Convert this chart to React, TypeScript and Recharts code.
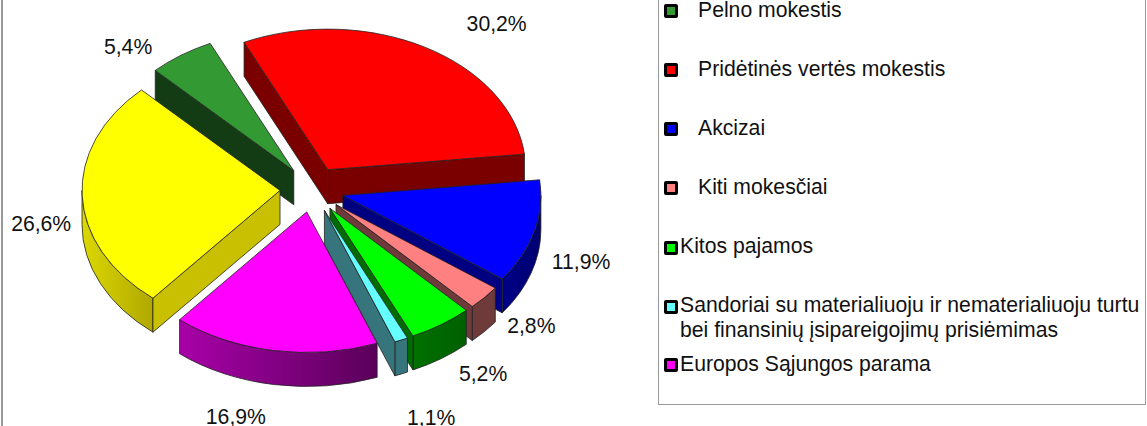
import { PieChart, Pie, Cell, Legend } from 'recharts';

// Legend list is cut off at the top of the picture, so the yellow slice has no visible name (last name is a guess)
const NAMES = [
  'Pelno mokestis',
  'Pridėtinės vertės mokestis',
  'Akcizai',
  'Kiti mokesčiai',
  'Kitos pajamos',
  'Sandoriai su materialiuoju ir nematerialiuoju turtu bei finansinių įsipareigojimų prisiėmimas',
  'Europos Sąjungos parama',
  'Gyventojų pajamų mokestis',
];
const VALUES = [5.4, 30.2, 11.9, 2.8, 5.2, 1.1, 16.9, 26.6];
const TOP_COLORS = ['#339933', '#ff0000', '#0000ff', '#ff8080', '#00ff00', '#66ffff', '#ff00ff', '#ffff00'];
const WALL_COLORS = ['#143c14', '#7a0000', '#000080', '#6e3a3a', '#006b00', '#37757c', '#8a008a', '#c8c000'];
const ARC_LIGHT = ['#143c14', '#7a0000', '#000088', '#6e3a3a', '#007000', '#37757c', '#a800a8', '#dcd800'];
const ARC_DARK = ['#143c14', '#7a0000', '#000070', '#6e3a3a', '#006000', '#37757c', '#5a005a', '#b0a800'];

// label offset from the slice's outer anchor, in px
const LABEL_DX = [-53, 72, 47, 47, 42, 30, -38, -41];
const LABEL_DY = [-9, -24, 30, 28, 49, 77, 66, 28];

const data = NAMES.map((name, i) => ({ name, value: VALUES[i] }));

const WIDTH = 1147;
const HEIGHT = 426;
const SQUASH = 0.71;
const EXPLODE = 32;
const DEPTH = 34;
const RAD = Math.PI / 180;

function Slice3D(props: any) {
  const { cx, cy, outerRadius: r, startAngle, endAngle, name } = props;
  const index = NAMES.indexOf(name ?? props.payload?.name);
  const mid = ((startAngle + endAngle) / 2) * RAD;
  const ox = cx + EXPLODE * Math.cos(mid);
  const oy = cy - EXPLODE * SQUASH * Math.sin(mid);
  const px = (deg: number) => ox + r * Math.cos(deg * RAD);
  const py = (deg: number) => oy - r * SQUASH * Math.sin(deg * RAD);
  const ry = r * SQUASH;
  const large = Math.abs(endAngle - startAngle) > 180 ? 1 : 0;

  const topPath = `M${ox},${oy}L${px(startAngle)},${py(startAngle)}A${r},${ry} 0 ${large} 1 ${px(endAngle)},${py(endAngle)}Z`;
  const quad = (deg: number) =>
    `M${ox},${oy}L${px(deg)},${py(deg)}L${px(deg)},${py(deg) + DEPTH}L${ox},${oy + DEPTH}Z`;

  // a cut face shows only when it turns toward the viewer
  const startVisible = Math.cos(startAngle * RAD) < 0;
  const endVisible = Math.cos(endAngle * RAD) > 0;

  // outer wall is the part of the arc on the lower half of the ellipse
  const sweep = Math.abs(startAngle - endAngle);
  const s = ((startAngle % 360) + 360) % 360;
  const e = s - sweep;
  let arcFrom = 0;
  let arcTo = 0;
  if (s > 180) {
    arcFrom = s;
    arcTo = Math.max(e, 180);
  } else if (e < 0) {
    arcFrom = 0;
    arcTo = Math.max(e, -180);
  }
  const hasArc = arcFrom > arcTo;
  const gradId = `wall-${index}`;

  return (
    <g>
      <defs>
        <linearGradient id={gradId} x1="0" y1="0" x2="1" y2="0">
          <stop offset="0%" stopColor={ARC_LIGHT[index]} />
          <stop offset="100%" stopColor={ARC_DARK[index]} />
        </linearGradient>
      </defs>
      {hasArc && (
        <path
          d={`M${px(arcFrom)},${py(arcFrom)}A${r},${ry} 0 0 1 ${px(arcTo)},${py(arcTo)}L${px(arcTo)},${py(arcTo) + DEPTH}A${r},${ry} 0 0 0 ${px(arcFrom)},${py(arcFrom) + DEPTH}Z`}
          fill={`url(#${gradId})`}
          stroke="#222"
          strokeWidth={0.8}
        />
      )}
      {startVisible && <path d={quad(startAngle)} fill={WALL_COLORS[index]} stroke="#222" strokeWidth={0.8} />}
      {endVisible && <path d={quad(endAngle)} fill={WALL_COLORS[index]} stroke="#222" strokeWidth={0.8} />}
      <path d={topPath} fill={TOP_COLORS[index]} stroke="#222" strokeWidth={0.8} />
    </g>
  );
}

function renderLabel(props: any) {
  const { cx, cy, midAngle, outerRadius, index } = props;
  const x = cx + (outerRadius + EXPLODE) * Math.cos(midAngle * RAD) + LABEL_DX[index];
  const y = cy - (outerRadius + EXPLODE) * SQUASH * Math.sin(midAngle * RAD) + LABEL_DY[index];
  return (
    <text x={x} y={y} textAnchor="middle" dominantBaseline="central" fontSize={21.2} fill="#111">
      {VALUES[index].toFixed(1).replace('.', ',') + '%'}
    </text>
  );
}

// first four rows sit further from the marker than the rest, as in the original
const LEGEND_TEXT_LEFT = [39, 39, 39, 39, 21, 21, 21];
const LEGEND_ROW_TOP = [0, 55, 114, 173, 232, 291, 350];
const LEGEND_LINE = [17, 25, 25, 25, 25, 25, 25];
const MARKER_TOP = [3, 7, 7, 7, 8, 8, 7];

function LegendBox() {
  const rows = NAMES.slice(0, 7);
  return (
    <div
      style={{
        position: 'absolute',
        left: 658,
        top: -80,
        width: 488,
        height: 485,
        border: '1px solid #999',
        borderWidth: 1.5,
        boxSizing: 'border-box',
        fontFamily: '"Liberation Sans", Arial, sans-serif',
        fontSize: 21.2,
        color: '#111',
      }}
    >
      {rows.map((name, i) => (
        <div key={name} style={{ position: 'absolute', left: 0, top: 80 + LEGEND_ROW_TOP[i], width: 487, lineHeight: `${LEGEND_LINE[i]}px` }}>
          <span
            style={{
              position: 'absolute',
              left: 5,
              top: MARKER_TOP[i],
              width: 8,
              height: 8,
              border: '3px solid #000',
              borderRadius: 2,
              background: TOP_COLORS[i],
            }}
          />
          <div style={{ position: 'absolute', left: LEGEND_TEXT_LEFT[i], top: 0, width: 470 }}>{name}</div>
        </div>
      ))}
    </div>
  );
}

export default function App() {
  return (
    <div style={{ position: 'absolute', left: 0, top: 0, width: WIDTH, height: HEIGHT, overflow: 'hidden', background: '#fff' }}>
      <div style={{ position: 'absolute', left: 1, top: 0, width: 1.5, height: HEIGHT, background: '#999' }} />
      <PieChart width={WIDTH} height={HEIGHT} margin={{ top: 0, right: 0, bottom: 0, left: 0 }} style={{ fontFamily: '"Liberation Sans", Arial, sans-serif' }}>
        <Pie
          data={data}
          dataKey="value"
          nameKey="name"
          cx={312}
          cy={189.5}
          outerRadius={198}
          startAngle={134.4}
          endAngle={-225.6}
          stroke="none"
          shape={Slice3D}
          label={renderLabel}
          labelLine={false}
          isAnimationActive={false}
        >
          {data.map((entry, i) => (
            <Cell key={entry.name} fill={TOP_COLORS[i]} />
          ))}
        </Pie>
        <Legend content={() => null} />
      </PieChart>
      <LegendBox />
    </div>
  );
}
